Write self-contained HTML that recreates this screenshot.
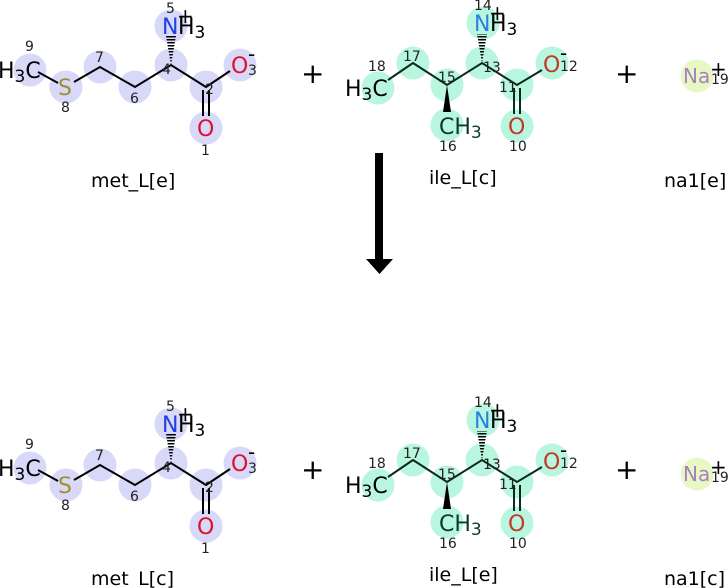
<!DOCTYPE html>
<html><head><meta charset="utf-8"><style>
html,body{margin:0;padding:0;background:#fff;width:728px;height:588px;overflow:hidden}
svg{display:block}
text{font-family:"DejaVu Sans","Liberation Sans",sans-serif}
.a{font-size:22px}
.n{font-size:14px;fill:#222}
.l{font-size:19px;fill:#000}
.cm{fill:#d8d8f8}
.ci{fill:#b8f6df}
.b{stroke:#000;stroke-width:2;fill:none}
.bi{stroke:#0a2a1e;stroke-width:2;fill:none}
</style></head><body>
<svg width="728" height="588" viewBox="0 0 728 588" xmlns="http://www.w3.org/2000/svg">
<defs>
<pattern id="h" width="1" height="3" patternUnits="userSpaceOnUse"><rect width="1" height="1.5" fill="#000"/></pattern>
</defs>

<!-- MET -->
<g>
<circle class="cm" cx="30" cy="70" r="16.5"/><circle class="cm" cx="66" cy="87" r="16.5"/>
<circle class="cm" cx="100" cy="67" r="16.5"/><circle class="cm" cx="135" cy="87" r="16.5"/>
<circle class="cm" cx="171" cy="65" r="16.5"/><circle class="cm" cx="206" cy="87" r="16.5"/>
<circle class="cm" cx="240" cy="65" r="16.5"/><circle class="cm" cx="206" cy="128" r="16.5"/>
<circle class="cm" cx="171" cy="26" r="16.5"/>
<path class="b" d="M38 72 L58 83 M74 82 L100 67 L135 87 L171 65 L206 87 L230 71 M203 90 V116 M209 90 V116"/>
<polygon points="171,65 166,36 176,36" fill="url(#h)"/>
<text class="a" x="-2" y="78">H<tspan font-size="17" dy="4">3</tspan><tspan dy="-4">C</tspan></text>
<text class="a" x="58" y="95" fill="#a09030">S</text>
<text class="a" x="162" y="34" fill="#2040e0">N</text>
<text class="a" x="178" y="34">H<tspan font-size="17" dy="4">3</tspan></text>
<text x="177" y="23" font-size="20">+</text>
<text class="a" x="231" y="73" fill="#e0102a">O</text>
<text x="248" y="61" font-size="20">-</text>
<text class="a" x="197" y="136" fill="#e0102a">O</text>
<text class="n" x="25" y="51">9</text><text class="n" x="61" y="112">8</text>
<text class="n" x="95" y="62">7</text><text class="n" x="130" y="103">6</text>
<text class="n" x="162" y="74">4</text><text class="n" x="205" y="94">2</text>
<text class="n" x="248" y="75">3</text><text class="n" x="201" y="155">1</text>
<text class="n" x="166" y="13">5</text>
<text class="l" x="91" y="187">met_L[e]</text>
</g>

<!-- ILE -->
<g>
<circle class="ci" cx="378" cy="88" r="16.5"/><circle class="ci" cx="413" cy="63" r="16.5"/>
<circle class="ci" cx="447" cy="85" r="16.5"/><circle class="ci" cx="482" cy="63" r="16.5"/>
<circle class="ci" cx="517" cy="85" r="16.5"/><circle class="ci" cx="552" cy="63" r="16.5"/>
<circle class="ci" cx="517" cy="126" r="16.5"/><circle class="ci" cx="447" cy="125" r="16.5"/>
<circle class="ci" cx="483" cy="23" r="16.5"/>
<path class="bi" d="M388 80 L413 63 L447 85 L482 63 L517 85 L542 70 M514 88 V114 M520 88 V114"/>
<polygon points="447,85 443,112 451,112" fill="#000"/>
<polygon points="482,63 477,34 487,34" fill="url(#h)"/>
<text class="a" x="345" y="96">H<tspan font-size="17" dy="4">3</tspan><tspan dy="-4">C</tspan></text>
<text class="a" x="439" y="134" fill="#0a3a2a">CH<tspan font-size="17" dy="4">3</tspan></text>
<text class="a" x="474" y="31" fill="#2a80e0">N</text>
<text class="a" x="490" y="31">H<tspan font-size="17" dy="4">3</tspan></text>
<text x="489" y="20" font-size="20">+</text>
<text class="a" x="543" y="72" fill="#c03a2a">O</text>
<text x="560" y="60" font-size="20">-</text>
<text class="a" x="508" y="134" fill="#c03a2a">O</text>
<text class="n" x="368" y="71">18</text><text class="n" x="403" y="61">17</text>
<text class="n" x="438" y="82">15</text><text class="n" x="483" y="72">13</text>
<text class="n" x="499" y="92">11</text><text class="n" x="560" y="71">12</text>
<text class="n" x="439" y="151">16</text><text class="n" x="509" y="151">10</text>
<text class="n" x="474" y="10">14</text>
<text class="l" x="429" y="184">ile_L[c]</text>
</g>

<!-- NA -->
<circle cx="697" cy="76" r="16.5" fill="#e8f8c4"/>
<text x="683" y="83" fill="#a880c0" font-size="20">Na</text>
<text x="710" y="76" font-size="20">+</text>
<text class="n" x="711" y="84">19</text>
<text class="l" x="664" y="187">na1[e]</text>

<text x="301" y="83" font-size="28">+</text>
<text x="615" y="83" font-size="28">+</text>

<!-- arrow -->
<rect x="375" y="153" width="8" height="108" fill="#000"/>
<polygon points="366,259 393,259 379.5,274" fill="#000"/>

<!-- BOTTOM -->
<g transform="translate(0,398)">
<circle class="cm" cx="30" cy="70" r="16.5"/><circle class="cm" cx="66" cy="87" r="16.5"/>
<circle class="cm" cx="100" cy="67" r="16.5"/><circle class="cm" cx="135" cy="87" r="16.5"/>
<circle class="cm" cx="171" cy="65" r="16.5"/><circle class="cm" cx="206" cy="87" r="16.5"/>
<circle class="cm" cx="240" cy="65" r="16.5"/><circle class="cm" cx="206" cy="128" r="16.5"/>
<circle class="cm" cx="171" cy="26" r="16.5"/>
<path class="b" d="M38 72 L58 83 M74 82 L100 67 L135 87 L171 65 L206 87 L230 71 M203 90 V116 M209 90 V116"/>
<polygon points="171,65 166,36 176,36" fill="url(#h)"/>
<text class="a" x="-2" y="78">H<tspan font-size="17" dy="4">3</tspan><tspan dy="-4">C</tspan></text>
<text class="a" x="58" y="95" fill="#a09030">S</text>
<text class="a" x="162" y="34" fill="#2040e0">N</text>
<text class="a" x="178" y="34">H<tspan font-size="17" dy="4">3</tspan></text>
<text x="177" y="23" font-size="20">+</text>
<text class="a" x="231" y="73" fill="#e0102a">O</text>
<text x="248" y="61" font-size="20">-</text>
<text class="a" x="197" y="136" fill="#e0102a">O</text>
<text class="n" x="25" y="51">9</text><text class="n" x="61" y="112">8</text>
<text class="n" x="95" y="62">7</text><text class="n" x="130" y="103">6</text>
<text class="n" x="162" y="74">4</text><text class="n" x="205" y="94">2</text>
<text class="n" x="248" y="75">3</text><text class="n" x="201" y="155">1</text>
<text class="n" x="166" y="13">5</text>
<text class="l" x="91" y="187">met_L[c]</text>

<circle cx="697" cy="76" r="16.5" fill="#e8f8c4"/>
<text x="683" y="83" fill="#a880c0" font-size="20">Na</text>
<text x="710" y="76" font-size="20">+</text>
<text class="n" x="711" y="84">19</text>
<text class="l" x="664" y="187">na1[c]</text>
<text x="301" y="81" font-size="28">+</text>
<text x="615" y="81" font-size="28">+</text>
</g>
<g transform="translate(0,397)">
<circle class="ci" cx="378" cy="88" r="16.5"/><circle class="ci" cx="413" cy="63" r="16.5"/>
<circle class="ci" cx="447" cy="85" r="16.5"/><circle class="ci" cx="482" cy="63" r="16.5"/>
<circle class="ci" cx="517" cy="85" r="16.5"/><circle class="ci" cx="552" cy="63" r="16.5"/>
<circle class="ci" cx="517" cy="126" r="16.5"/><circle class="ci" cx="447" cy="125" r="16.5"/>
<circle class="ci" cx="483" cy="23" r="16.5"/>
<path class="bi" d="M388 80 L413 63 L447 85 L482 63 L517 85 L542 70 M514 88 V114 M520 88 V114"/>
<polygon points="447,85 443,112 451,112" fill="#000"/>
<polygon points="482,63 477,34 487,34" fill="url(#h)"/>
<text class="a" x="345" y="96">H<tspan font-size="17" dy="4">3</tspan><tspan dy="-4">C</tspan></text>
<text class="a" x="439" y="134" fill="#0a3a2a">CH<tspan font-size="17" dy="4">3</tspan></text>
<text class="a" x="474" y="31" fill="#2a80e0">N</text>
<text class="a" x="490" y="31">H<tspan font-size="17" dy="4">3</tspan></text>
<text x="489" y="20" font-size="20">+</text>
<text class="a" x="543" y="72" fill="#c03a2a">O</text>
<text x="560" y="60" font-size="20">-</text>
<text class="a" x="508" y="134" fill="#c03a2a">O</text>
<text class="n" x="368" y="71">18</text><text class="n" x="403" y="61">17</text>
<text class="n" x="438" y="82">15</text><text class="n" x="483" y="72">13</text>
<text class="n" x="499" y="92">11</text><text class="n" x="560" y="71">12</text>
<text class="n" x="439" y="151">16</text><text class="n" x="509" y="151">10</text>
<text class="n" x="474" y="10">14</text>
<text class="l" x="429" y="184">ile_L[e]</text>
</g>
</svg>
</body></html>
